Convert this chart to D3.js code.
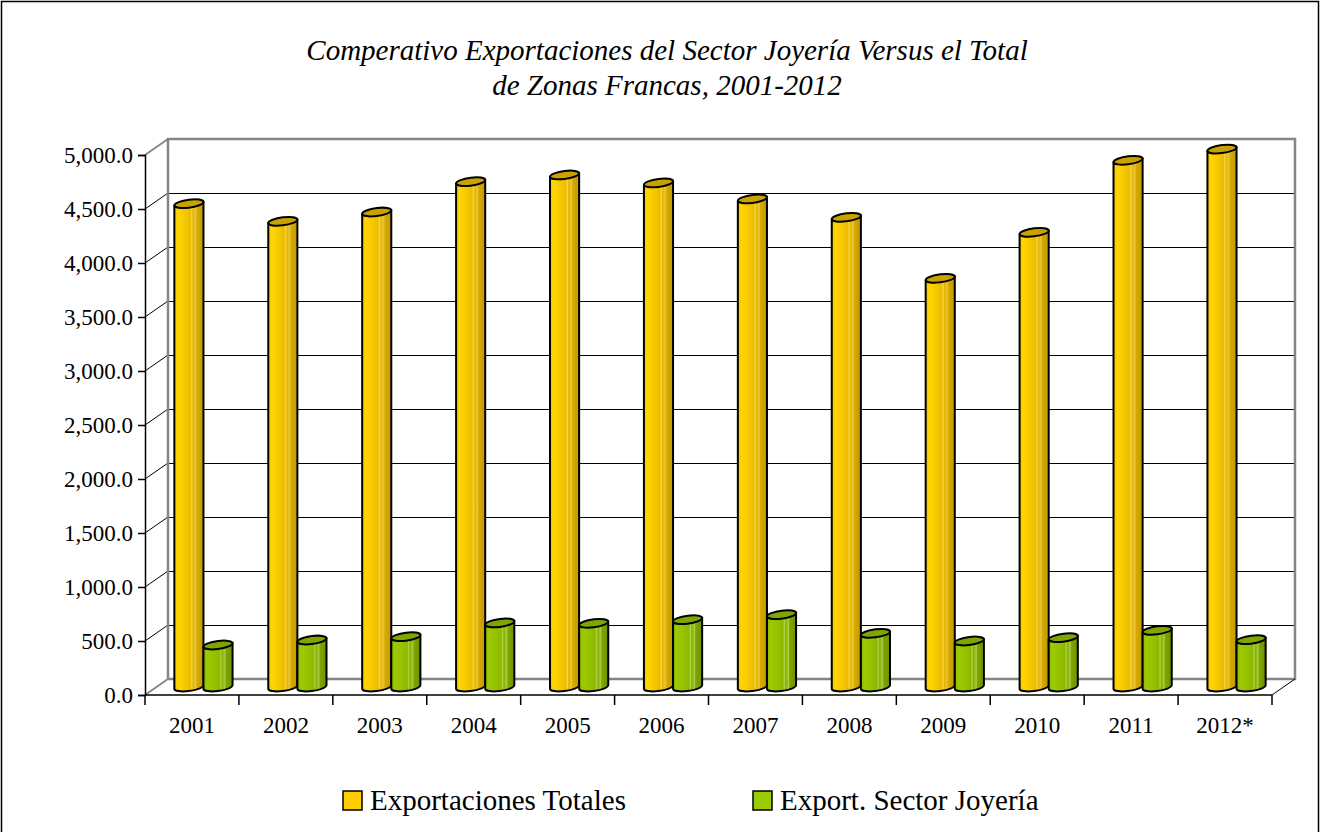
<!DOCTYPE html>
<html>
<head>
<meta charset="utf-8">
<script src="https://cdn.jsdelivr.net/npm/d3@7"></script>
<style>
  html, body { margin: 0; padding: 0; background: #fff; }
  svg { display: block; }
  text { font-family: "Liberation Serif", "Times New Roman", serif; fill: #000; }
</style>
</head>
<body>
<svg id="chart" width="1320" height="832"></svg>
<script>
// ---- data ----
const categories = ["2001","2002","2003","2004","2005","2006","2007","2008","2009","2010","2011","2012*"];
const seriesNames = ["Exportaciones Totales", "Export. Sector Joyería"];
const exportacionesTotales = [4475, 4312, 4398, 4679, 4741, 4667, 4519, 4349, 3784, 4210, 4877, 4981];
const exportSectorJoyeria = [389, 435, 466, 593, 590, 623, 670, 497, 426, 457, 525, 438];
const yTickValues = [0, 500, 1000, 1500, 2000, 2500, 3000, 3500, 4000, 4500, 5000];
const titleLines = ["Comperativo Exportaciones del Sector Joyería Versus el Total", "de Zonas Francas, 2001-2012"];

const seriesData = [exportacionesTotales, exportSectorJoyeria];

// ---- layout ----
const svg = d3.select("#chart");
const X0 = 145, X1 = 1272, Y0 = 695, Y1 = 155;
const DX = 23, DY = -16;          // depth offset of back wall
const MX = DX / 2, MY = DY / 2;   // bars sit at mid depth

const x = d3.scaleBand().domain(categories).range([X0, X1]).padding(0);
const bw = x.bandwidth();
const xs = d3.scaleBand().domain(seriesNames).range([bw * 0.19, bw * 0.81]).padding(0);
const y = d3.scaleLinear().domain([0, 5000]).range([Y0, Y1]);

const styles = [
  { body: "gradY", top: "#C9A200", legend: "#FFCC00" },
  { body: "gradG", top: "#7FA600", legend: "#99CC00" }
];

// ---- defs ----
const defs = svg.append("defs");
function grad(id, stops) {
  const g = defs.append("linearGradient").attr("id", id)
    .attr("x1", "0%").attr("x2", "100%").attr("y1", "0%").attr("y2", "0%");
  stops.forEach(s => g.append("stop").attr("offset", s[0]).attr("stop-color", s[1]));
}
grad("gradY", [[0, "#F2C200"], [0.12, "#FFD600"], [0.35, "#F6C800"], [0.55, "#EBBC00"],
  [0.6, "#F5D650"], [0.64, "#E4B600"], [0.74, "#E9C440"], [0.78, "#D6AA00"], [1, "#C29A00"]]);
grad("gradG", [[0, "#8CB800"], [0.12, "#9CCB00"], [0.35, "#95C200"], [0.55, "#8DB800"],
  [0.6, "#B0D640"], [0.64, "#86B000"], [0.74, "#A8CC40"], [0.78, "#7FA500"], [1, "#6E9200"]]);

// ---- outer frame ----
svg.append("rect").attr("x", 1.5).attr("y", 1.5).attr("width", 1317).attr("height", 840)
  .attr("fill", "none").attr("stroke", "#000").attr("stroke-width", 1.5);

// ---- title ----
titleLines.forEach((t, i) => {
  svg.append("text").attr("x", 667).attr("y", 60 + i * 35)
    .attr("text-anchor", "middle").attr("font-style", "italic").attr("font-size", 29)
    .text(t);
});

// ---- walls ----
const gray = "#858585";
const walls = svg.append("g");
// gridlines on back wall and left wall
yTickValues.forEach(v => {
  const yf = y(v), yb = y(v) + DY;
  const isEdge = (v === 0 || v === 5000);
  walls.append("line").attr("x1", X0).attr("y1", yf).attr("x2", X0 + DX).attr("y2", yb)
    .attr("stroke", isEdge ? gray : "#000").attr("stroke-width", isEdge ? 2 : 1);
  if (!isEdge) {
    walls.append("line").attr("x1", X0 + DX).attr("y1", yb + 0.5).attr("x2", X1 + DX).attr("y2", yb + 0.5)
      .attr("stroke", "#000").attr("stroke-width", 1.2);
  }
});
// back wall border (gray)
walls.append("path")
  .attr("d", `M${X0 + DX},${y(0) + DY} L${X0 + DX},${y(5000) + DY} L${X1 + DX},${y(5000) + DY} L${X1 + DX},${y(0) + DY} L${X0 + DX},${y(0) + DY}`)
  .attr("fill", "none").attr("stroke", gray).attr("stroke-width", 2.5);
// floor right diagonal
walls.append("line").attr("x1", X1).attr("y1", Y0).attr("x2", X1 + DX).attr("y2", Y0 + DY)
  .attr("stroke", "#000").attr("stroke-width", 1);

// ---- cylinders ----
const RY = 4;
const bars = svg.append("g");
categories.forEach((c, i) => {
  seriesNames.forEach((s, j) => {
    const v = seriesData[j][i];
    const r = xs.bandwidth() / 2;
    const cx = x(c) + xs(s) + r + MX;
    const yb = y(0) + MY;
    const yt = y(v) + MY;
    const g = bars.append("g")
      .attr("transform", `translate(${cx},0) skewY(-7) translate(${-cx},0)`);
    g.append("path")
      .attr("d", `M${cx - r},${yt} L${cx - r},${yb} A${r},${RY} 0 0 0 ${cx + r},${yb} L${cx + r},${yt} Z`)
      .attr("fill", `url(#${styles[j].body})`)
      .attr("stroke", "#000").attr("stroke-width", 2).attr("stroke-linejoin", "round");
    g.append("ellipse").attr("cx", cx).attr("cy", yt).attr("rx", r).attr("ry", RY)
      .attr("fill", styles[j].top).attr("stroke", "#000").attr("stroke-width", 2);
  });
});

// ---- axes ----
const yAxis = svg.append("g").attr("transform", `translate(${X0},0)`)
  .call(d3.axisLeft(y).tickValues(yTickValues).tickSize(7).tickPadding(5)
    .tickFormat(d3.format(",.1f")));
yAxis.select(".domain").attr("stroke", "#000").attr("stroke-width", 1.5);
yAxis.selectAll(".tick line").attr("stroke", "#000").attr("stroke-width", 1.5);
yAxis.selectAll(".tick text").attr("font-size", 23).attr("font-family", "Liberation Serif");

const xAxis = svg.append("g").attr("transform", `translate(0,${Y0})`)
  .call(d3.axisBottom(x).tickSize(0).tickPadding(0));
xAxis.select(".domain").remove();
xAxis.selectAll(".tick text").attr("y", 38).attr("dy", 0)
  .attr("font-size", 23).attr("font-family", "Liberation Serif");
// front axis line and boundary ticks
svg.append("line").attr("x1", X0).attr("y1", Y0).attr("x2", X1).attr("y2", Y0)
  .attr("stroke", "#000").attr("stroke-width", 1.5);
const boundaries = categories.map(c => x(c)).concat([X1]);
svg.append("g").selectAll("line").data(boundaries).join("line")
  .attr("x1", d => d).attr("x2", d => d).attr("y1", Y0).attr("y2", Y0 + 10)
  .attr("stroke", "#000").attr("stroke-width", 1.5);

// ---- legend ----
const legendX = [343, 753];
seriesNames.forEach((s, j) => {
  const lg = svg.append("g").attr("transform", `translate(${legendX[j]},791)`);
  lg.append("rect").attr("width", 19).attr("height", 19)
    .attr("fill", styles[j].legend).attr("stroke", "#000").attr("stroke-width", 1.5);
  lg.append("text").attr("x", 27).attr("y", 19).attr("font-size", 29).text(s);
});
</script>
</body>
</html>
